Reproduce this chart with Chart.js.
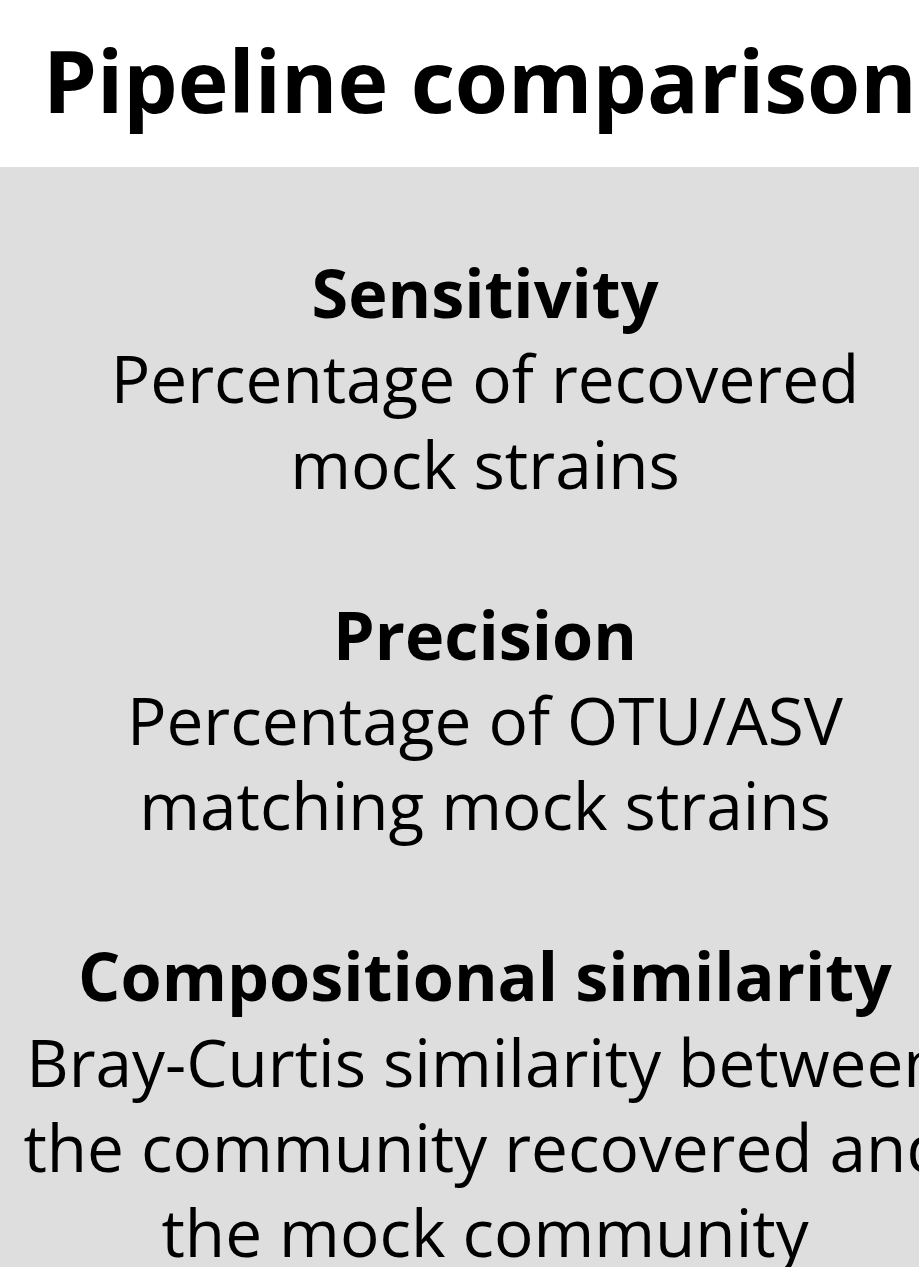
<!DOCTYPE html>
<html>
<head>
<meta charset="utf-8">
<title>Pipeline comparison</title>
<script src="https://cdn.jsdelivr.net/npm/chart.js@4.4.1/dist/chart.umd.min.js"></script>
<style>
  html, body { margin: 0; padding: 0; background: #ffffff; }
  canvas { display: block; }
</style>
</head>
<body>
<canvas id="myPanel" width="919" height="1267"></canvas>
<script>
// text content of the panel
var titleText = 'Pipeline comparison';
var headings = ['Sensitivity', 'Precision', 'Compositional similarity'];
var descriptions = [
    ['Percentage of recovered', 'mock strains'],
    ['Percentage of OTU/ASV', 'matching mock strains'],
    ['Bray-Curtis similarity between', 'the community recovered and', 'the mock community']
];

// draws the grey box and the text blocks
var panelPlugin = {
    id: 'panelText',
    beforeDraw: function (chart) {
        var ctx = chart.ctx;
        var w = chart.width;
        var h = chart.height;
        ctx.save();
        ctx.fillStyle = '#ffffff';
        ctx.fillRect(0, 0, w, h);

        // title
        ctx.fillStyle = '#000000';
        ctx.textBaseline = 'alphabetic';
        ctx.textAlign = 'left';
        ctx.font = 'bold 86px "Open Sans"';
        ctx.fillText(titleText, 43, 113);

        // grey box
        ctx.fillStyle = '#dedede';
        ctx.fillRect(0, 167, w, h - 167);

        // blocks
        ctx.fillStyle = '#000000';
        ctx.textAlign = 'center';
        var cx = 485;
        var y = 318;
        var step = 85.4;
        for (var i = 0; i < headings.length; i++) {
            ctx.font = 'bold 66.5px "Open Sans"';
            ctx.fillText(headings[i], cx, y);
            y += step;
            ctx.font = '65.7px "Open Sans"';
            for (var j = 0; j < descriptions[i].length; j++) {
                ctx.fillText(descriptions[i][j], cx, y);
                y += step;
            }
            y += step;
        }
        ctx.restore();
    }
};

var ctx = document.getElementById('myPanel').getContext('2d');
var myPanel = new Chart(ctx, {
    type: 'bar',
    data: {
        labels: [],
        datasets: []
    },
    options: {
        responsive: false,
        animation: false,
        events: [],
        plugins: {
            legend: { display: false },
            tooltip: { enabled: false },
            title: { display: false }
        },
        scales: {
            x: { display: false },
            y: { display: false }
        }
    },
    plugins: [panelPlugin]
});
</script>
</body>
</html>
